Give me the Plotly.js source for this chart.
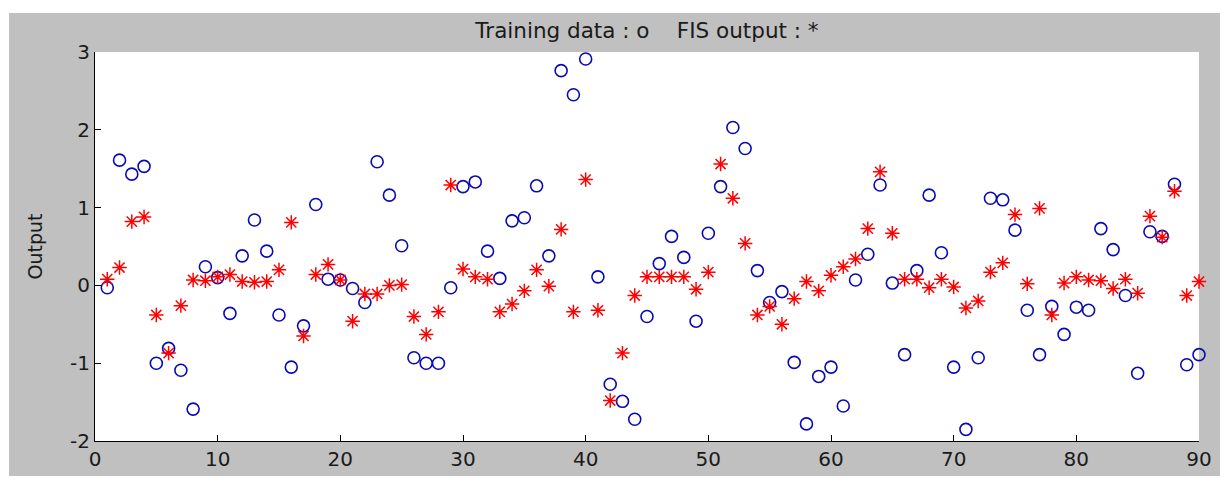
<!DOCTYPE html>
<html>
<head>
<meta charset="utf-8">
<script src="https://cdn.plot.ly/plotly-3.0.1.min.js"></script>
<style>
html,body{margin:0;padding:0;background:#ffffff;width:1229px;height:482px;overflow:hidden;}
#chart{position:absolute;left:9px;top:13px;width:1211px;height:463px;}
</style>
</head>
<body>
<div id="chart"></div>
<script>
const xIndex = [1,2,3,4,5,6,7,8,9,10,11,12,13,14,15,16,17,18,19,20,
21,22,23,24,25,26,27,28,29,30,31,32,33,34,35,36,37,38,39,40,
41,42,43,44,45,46,47,48,49,50,51,52,53,54,55,56,57,58,59,60,
61,62,63,64,65,66,67,68,69,70,71,72,73,74,75,76,77,78,79,80,
81,82,83,84,85,86,87,88,89,90];

const trainingData = [-0.03,1.61,1.43,1.53,-1.00,-0.81,-1.09,-1.59,0.24,0.10,
-0.36,0.38,0.84,0.44,-0.38,-1.05,-0.52,1.04,0.08,0.07,
-0.04,-0.22,1.59,1.16,0.51,-0.93,-1.00,-1.00,-0.03,1.27,
1.33,0.44,0.09,0.83,0.87,1.28,0.38,2.76,2.45,2.91,
0.11,-1.27,-1.49,-1.72,-0.40,0.28,0.63,0.36,-0.46,0.67,
1.27,2.03,1.76,0.19,-0.22,-0.08,-0.99,-1.78,-1.17,-1.05,
-1.55,0.07,0.40,1.29,0.03,-0.89,0.19,1.16,0.42,-1.05,
-1.85,-0.93,1.12,1.10,0.71,-0.32,-0.89,-0.27,-0.63,-0.28,
-0.32,0.73,0.46,-0.13,-1.13,0.69,0.63,1.30,-1.02,-0.89];

const fisOutput = [0.08,0.23,0.82,0.88,-0.38,-0.87,-0.26,0.07,0.06,0.11,
0.14,0.05,0.04,0.05,0.20,0.81,-0.65,0.14,0.27,0.07,
-0.46,-0.11,-0.11,0.00,0.01,-0.40,-0.63,-0.34,1.29,0.21,
0.11,0.08,-0.34,-0.24,-0.07,0.20,-0.01,0.72,-0.34,1.36,
-0.32,-1.48,-0.87,-0.13,0.11,0.11,0.11,0.11,-0.05,0.17,
1.56,1.12,0.54,-0.38,-0.27,-0.50,-0.17,0.05,-0.07,0.13,
0.24,0.34,0.73,1.46,0.67,0.08,0.08,-0.03,0.08,-0.02,
-0.29,-0.20,0.17,0.29,0.91,0.02,0.99,-0.38,0.03,0.11,
0.07,0.06,-0.04,0.08,-0.10,0.89,0.62,1.21,-0.13,0.05];

const xTicks = [0,10,20,30,40,50,60,70,80,90];
const yTicks = [-2,-1,0,1,2,3];

const tickFont = {family: 'DejaVu Sans, sans-serif', size: 20, color: '#1a1a1a'};

const traces = [
  {
    x: xIndex, y: trainingData, type: 'scatter', mode: 'markers', name: 'Training data',
    marker: {symbol: 'circle-open', size: 12, color: '#0a0ab4', line: {width: 1.6, color: '#0a0ab4'}},
    cliponaxis: false
  },
  {
    x: xIndex, y: fisOutput, type: 'scatter', mode: 'markers', name: 'FIS output',
    marker: {symbol: 'asterisk-open', size: 12, color: '#ff0000', line: {width: 1.5, color: '#ff0000'}},
    cliponaxis: false
  }
];

const layout = {
  width: 1211, height: 463,
  paper_bgcolor: '#c0c0c0',
  plot_bgcolor: '#ffffff',
  showlegend: false,
  margin: {l: 86, r: 21, t: 39, b: 35, pad: 0},
  title: {text: 'Training data : o&nbsp;&nbsp;&nbsp; FIS output : *', x: 0.5, xref: 'paper', xanchor: 'center', y: 0.963, yanchor: 'middle',
          font: {family: 'DejaVu Sans, sans-serif', size: 21.5, color: '#1a1a1a'}},
  xaxis: {
    range: [0, 90], tickvals: xTicks, ticktext: xTicks.map(String),
    ticks: 'inside', ticklen: 6, tickcolor: '#000000', tickwidth: 1,
    showline: true, linecolor: '#000000', linewidth: 1, mirror: false,
    showgrid: false, zeroline: false, tickfont: tickFont, automargin: false
  },
  yaxis: {
    range: [-2, 3], tickvals: yTicks, ticktext: yTicks.map(String),
    ticks: 'inside', ticklen: 6, tickcolor: '#000000', tickwidth: 1,
    showline: true, linecolor: '#000000', linewidth: 1, mirror: false,
    showgrid: false, zeroline: false, tickfont: tickFont, automargin: false
  },
  annotations: [
    {text: 'Output', xref: 'paper', yref: 'paper', x: 0, y: 0.5, xanchor: 'center', yanchor: 'middle',
     xshift: -61, textangle: -90, showarrow: false,
     font: {family: 'DejaVu Sans, sans-serif', size: 19, color: '#1a1a1a'}}
  ]
};

Plotly.newPlot('chart', traces, layout, {staticPlot: true, displayModeBar: false});
</script>
</body>
</html>
